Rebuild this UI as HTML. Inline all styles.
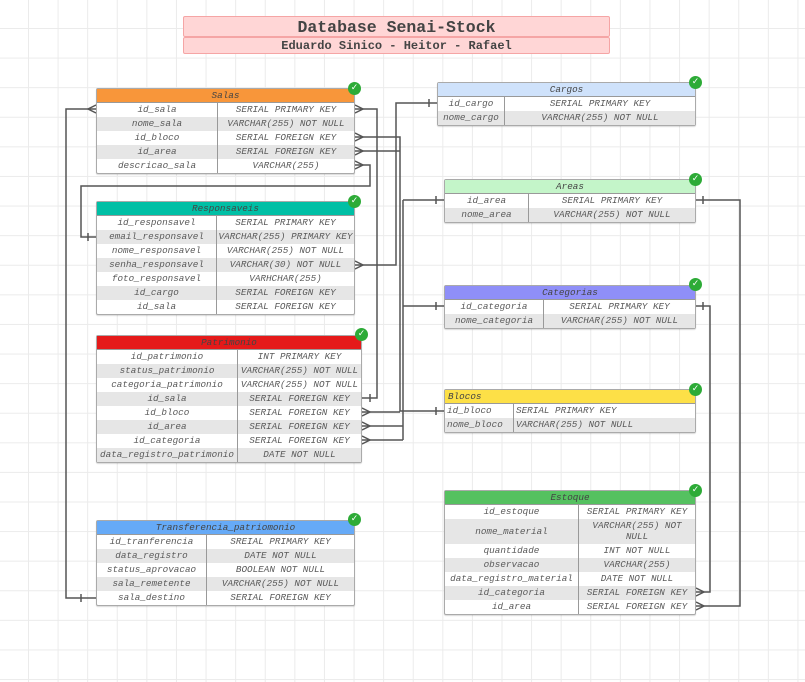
<!DOCTYPE html>
<html><head><meta charset="utf-8"><style>
body{margin:0;width:805px;height:682px;overflow:hidden;background:#fff;position:relative;
background-image:linear-gradient(#ebebeb 1px,transparent 1px),linear-gradient(90deg,#ebebeb 1px,transparent 1px);
background-size:29.6px 29.6px;background-position:28px 28px;font-family:"Liberation Mono",monospace;}
.t{position:absolute;box-sizing:border-box;border:1px solid #aaa;border-radius:2px;background:#fff;font-style:italic;font-size:9.3px;color:#5a5a5a;box-shadow:0 1px 1px rgba(0,0,0,.15)}
.h{height:13px;line-height:14px;text-align:center;border-bottom:1px solid #999;color:#444}
.r{display:flex;height:14px;line-height:14px}
.r:nth-child(odd){background:#e6e6e6}
.r span{text-align:center;white-space:nowrap;overflow:hidden}
.r span:first-child{border-right:1px solid #999}
.L span{text-align:left;padding-left:2px}
.ck{position:absolute;width:13px;height:13px;border-radius:50%;background:#2dab37;color:#fff;font-size:9px;line-height:13px;text-align:center;font-family:"DejaVu Sans",sans-serif;font-weight:bold}
.ti{position:absolute;left:183px;width:427px;box-sizing:border-box;background:#ffd6d6;border:1px solid #f5a5a5;border-radius:2px;text-align:center;font-weight:bold;color:#444}
svg{position:absolute;left:0;top:0}
</style></head><body>
<div class="ti" style="top:16px;height:21px;line-height:22px;font-size:16.5px">Database Senai-Stock</div>
<div class="ti" style="top:37px;height:17px;line-height:16px;font-size:12px">Eduardo Sinico - Heitor - Rafael</div>

<svg width="805" height="682" fill="none" stroke="#555" stroke-width="1.5">
<path d="M96 109 H66 V598 H96"/><path d="M96 105 L88 109 L96 113"/><path d="M81 594 V602"/>
<path d="M355 109 H377 V398 H362"/><path d="M355 105 L363 109 L355 113"/><path d="M370 394 V402"/>
<path d="M355 137 H400 V411 H444"/><path d="M355 133 L363 137 L355 141"/><path d="M436 407 V415"/>
<path d="M355 151 H400"/><path d="M355 147 L363 151 L355 155"/>
<path d="M362 412 H400"/><path d="M362 408 L370 412 L362 416"/>
<path d="M355 165 H370 V186 H81 V237 H96"/><path d="M355 161 L363 165 L355 169"/><path d="M88 233 V241"/>
<path d="M355 265 H396 V103 H437"/><path d="M355 261 L363 265 L355 269"/><path d="M429 99 V107"/>
<path d="M403 200 H444 M403 200 V440 M403 306 H444 M362 426 H403 M362 440 H403"/>
<path d="M436 196 V204 M436 302 V310"/>
<path d="M362 422 L370 426 L362 430 M362 436 L370 440 L362 444"/>
<path d="M696 306 H710 V592 H696"/><path d="M703 302 V310"/><path d="M696 588 L704 592 L696 596"/>
<path d="M696 200 H740 V606 H696"/><path d="M703 196 V204"/><path d="M696 602 L704 606 L696 610"/>
</svg>

<div class="t" style="left:96px;top:88px;width:259px"><div class="h" style="background:#f8963a">Salas</div>
<div class="r"><span style="width:120px">id_sala</span><span style="flex:1">SERIAL PRIMARY KEY</span></div>
<div class="r"><span style="width:120px">nome_sala</span><span style="flex:1">VARCHAR(255) NOT NULL</span></div>
<div class="r"><span style="width:120px">id_bloco</span><span style="flex:1">SERIAL FOREIGN KEY</span></div>
<div class="r"><span style="width:120px">id_area</span><span style="flex:1">SERIAL FOREIGN KEY</span></div>
<div class="r"><span style="width:120px">descricao_sala</span><span style="flex:1">VARCHAR(255)</span></div></div>
<div class="ck" style="left:348px;top:82px">✓</div>

<div class="t" style="left:96px;top:201px;width:259px"><div class="h" style="background:#00bfa5">Responsaveis</div>
<div class="r"><span style="width:119px">id_responsavel</span><span style="flex:1">SERIAL PRIMARY KEY</span></div>
<div class="r"><span style="width:119px">email_responsavel</span><span style="flex:1">VARCHAR(255) PRIMARY KEY</span></div>
<div class="r"><span style="width:119px">nome_responsavel</span><span style="flex:1">VARCHAR(255) NOT NULL</span></div>
<div class="r"><span style="width:119px">senha_responsavel</span><span style="flex:1">VARCHAR(30) NOT NULL</span></div>
<div class="r"><span style="width:119px">foto_responsavel</span><span style="flex:1">VARHCHAR(255)</span></div>
<div class="r"><span style="width:119px">id_cargo</span><span style="flex:1">SERIAL FOREIGN KEY</span></div>
<div class="r"><span style="width:119px">id_sala</span><span style="flex:1">SERIAL FOREIGN KEY</span></div></div>
<div class="ck" style="left:348px;top:195px">✓</div>

<div class="t" style="left:96px;top:335px;width:266px"><div class="h" style="background:#e51a1a">Patrimonio</div>
<div class="r"><span style="width:140px">id_patrimonio</span><span style="flex:1">INT PRIMARY KEY</span></div>
<div class="r"><span style="width:140px">status_patrimonio</span><span style="flex:1">VARCHAR(255) NOT NULL</span></div>
<div class="r"><span style="width:140px">categoria_patrimonio</span><span style="flex:1">VARCHAR(255) NOT NULL</span></div>
<div class="r"><span style="width:140px">id_sala</span><span style="flex:1">SERIAL FOREIGN KEY</span></div>
<div class="r"><span style="width:140px">id_bloco</span><span style="flex:1">SERIAL FOREIGN KEY</span></div>
<div class="r"><span style="width:140px">id_area</span><span style="flex:1">SERIAL FOREIGN KEY</span></div>
<div class="r"><span style="width:140px">id_categoria</span><span style="flex:1">SERIAL FOREIGN KEY</span></div>
<div class="r"><span style="width:140px">data_registro_patrimonio</span><span style="flex:1">DATE NOT NULL</span></div></div>
<div class="ck" style="left:355px;top:328px">✓</div>

<div class="t" style="left:96px;top:520px;width:259px"><div class="h" style="background:#66aaf7">Transferencia_patriomonio</div>
<div class="r"><span style="width:109px">id_tranferencia</span><span style="flex:1">SREIAL PRIMARY KEY</span></div>
<div class="r"><span style="width:109px">data_registro</span><span style="flex:1">DATE NOT NULL</span></div>
<div class="r"><span style="width:109px">status_aprovacao</span><span style="flex:1">BOOLEAN NOT NULL</span></div>
<div class="r"><span style="width:109px">sala_remetente</span><span style="flex:1">VARCHAR(255) NOT NULL</span></div>
<div class="r"><span style="width:109px">sala_destino</span><span style="flex:1">SERIAL FOREIGN KEY</span></div></div>
<div class="ck" style="left:348px;top:513px">✓</div>

<div class="t" style="left:437px;top:82px;width:259px"><div class="h" style="background:#cfe2fb">Cargos</div>
<div class="r"><span style="width:66px">id_cargo</span><span style="flex:1">SERIAL PRIMARY KEY</span></div>
<div class="r"><span style="width:66px">nome_cargo</span><span style="flex:1">VARCHAR(255) NOT NULL</span></div></div>
<div class="ck" style="left:689px;top:76px">✓</div>

<div class="t" style="left:444px;top:179px;width:252px"><div class="h" style="background:#c4f5c9">Areas</div>
<div class="r"><span style="width:83px">id_area</span><span style="flex:1">SERIAL PRIMARY KEY</span></div>
<div class="r"><span style="width:83px">nome_area</span><span style="flex:1">VARCHAR(255) NOT NULL</span></div></div>
<div class="ck" style="left:689px;top:173px">✓</div>

<div class="t" style="left:444px;top:285px;width:252px"><div class="h" style="background:#8f8ff8">Categorias</div>
<div class="r"><span style="width:98px">id_categoria</span><span style="flex:1">SERIAL PRIMARY KEY</span></div>
<div class="r"><span style="width:98px">nome_categoria</span><span style="flex:1">VARCHAR(255) NOT NULL</span></div></div>
<div class="ck" style="left:689px;top:278px">✓</div>

<div class="t" style="left:444px;top:389px;width:252px"><div class="h" style="background:#fde047;text-align:left;padding-left:3px">Blocos</div>
<div class="r L"><span style="width:66px">id_bloco</span><span style="flex:1">SERIAL PRIMARY KEY</span></div>
<div class="r L"><span style="width:66px">nome_bloco</span><span style="flex:1">VARCHAR(255) NOT NULL</span></div></div>
<div class="ck" style="left:689px;top:383px">✓</div>

<div class="t" style="left:444px;top:490px;width:252px"><div class="h" style="background:#55c160">Estoque</div>
<div class="r"><span style="width:133px">id_estoque</span><span style="flex:1">SERIAL PRIMARY KEY</span></div>
<div class="r" style="height:25px;line-height:11px"><span style="width:133px;line-height:25px">nome_material</span><span style="flex:1;white-space:normal;padding-top:1px">VARCHAR(255) NOT NULL</span></div>
<div class="r"><span style="width:133px">quantidade</span><span style="flex:1">INT NOT NULL</span></div>
<div class="r"><span style="width:133px">observacao</span><span style="flex:1">VARCHAR(255)</span></div>
<div class="r"><span style="width:133px">data_registro_material</span><span style="flex:1">DATE NOT NULL</span></div>
<div class="r"><span style="width:133px">id_categoria</span><span style="flex:1">SERIAL FOREIGN KEY</span></div>
<div class="r"><span style="width:133px">id_area</span><span style="flex:1">SERIAL FOREIGN KEY</span></div></div>
<div class="ck" style="left:689px;top:484px">✓</div>
</body></html>
